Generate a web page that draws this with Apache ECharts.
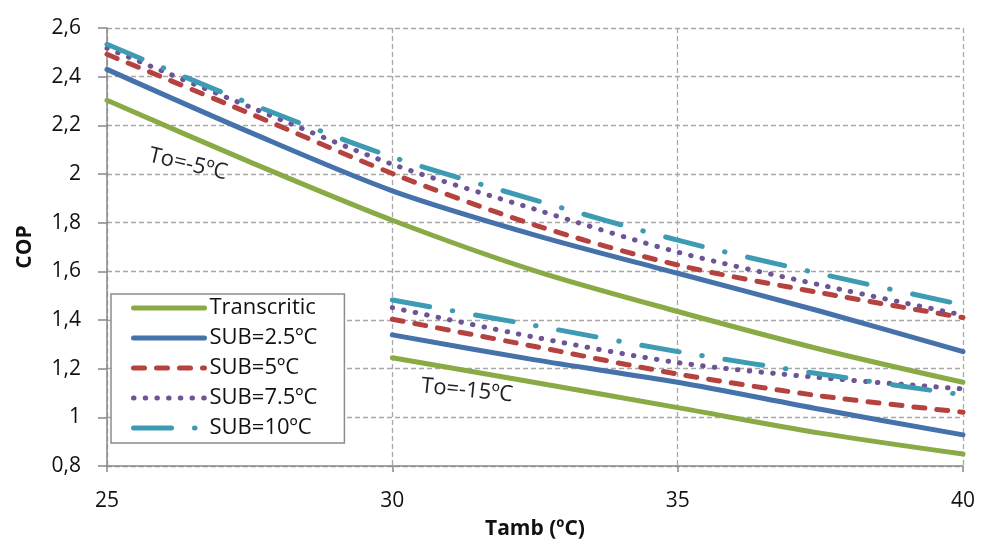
<!DOCTYPE html>
<html>
<head>
<meta charset="utf-8">
<script src="https://cdn.jsdelivr.net/npm/echarts@6/dist/echarts.min.js"></script>
<style>
  html, body { margin: 0; padding: 0; background: #fff; }
  #chart { width: 981px; height: 540px; }
</style>
</head>
<body>
<div id="chart"></div>
<script>
// Ambient temperature samples (ºC)
const tambHigh = [25, 27.5, 30, 32.5, 35, 37.5, 40];   // To = -5ºC
const tambLow = [30, 32.5, 35, 37.5, 40];               // To = -15ºC

const seriesNames = ['Transcritic', 'SUB=2.5ºC', 'SUB=5ºC', 'SUB=7.5ºC', 'SUB=10ºC'];

// COP at To = -5ºC
const copHighTrans = [2.303, 2.050, 1.810, 1.602, 1.435, 1.280, 1.144];
const copHighSub25 = [2.430, 2.172, 1.931, 1.749, 1.592, 1.436, 1.270];
const copHighSub5  = [2.492, 2.249, 2.002, 1.790, 1.626, 1.512, 1.410];
const copHighSub75 = [2.517, 2.276, 2.040, 1.855, 1.679, 1.544, 1.420];
const copHighSub10 = [2.533, 2.290, 2.070, 1.893, 1.728, 1.590, 1.462];

// COP at To = -15ºC
const copLowTrans = [1.245, 1.143, 1.040, 0.935, 0.849];
const copLowSub25 = [1.339, 1.236, 1.144, 1.033, 0.928];
const copLowSub5  = [1.403, 1.291, 1.178, 1.088, 1.021];
const copLowSub75 = [1.451, 1.329, 1.225, 1.163, 1.117];
const copLowSub10 = [1.482, 1.377, 1.270, 1.178, 1.092];

const yTicks = { min: 0.8, max: 2.6, step: 0.2 };
const xTicks = { min: 25, max: 40, step: 5 };

const styles = [
  { color: '#8AAA45', type: 'solid' },
  { color: '#4572AA', type: 'solid' },
  { color: '#B5423F', type: [11, 12] },
  { color: '#6E5395', type: [0.5, 11.2] },
  { color: '#3D9BB3', type: [38, 23, 0.5, 23] }
];

const highSets = [copHighTrans, copHighSub25, copHighSub5, copHighSub75, copHighSub10];
const lowSets = [copLowTrans, copLowSub25, copLowSub5, copLowSub75, copLowSub10];

function pairs(xs, ys) { return xs.map((x, i) => [x, ys[i]]); }

function makeSeries(name, data, st) {
  return {
    name: name,
    type: 'line',
    data: data,
    smooth: 0.3,
    symbol: 'none',
    showSymbol: false,
    lineStyle: { color: st.color, width: 5, type: st.type, cap: 'round', join: 'round' },
    itemStyle: { color: st.color },
    emphasis: { disabled: true },
    z: 3
  };
}

const series = [];
seriesNames.forEach((n, i) => series.push(makeSeries(n, pairs(tambHigh, highSets[i]), styles[i])));
seriesNames.forEach((n, i) => series.push(makeSeries(n, pairs(tambLow, lowSets[i]), styles[i])));

const font = '"Open Sans", "Noto Sans", "Liberation Sans", sans-serif';

function fmt(v) {
  return String(Math.round(v * 10) / 10).replace('.', ',');
}

const chart = echarts.init(document.getElementById('chart'), null, { renderer: 'canvas' });

chart.setOption({
  animation: false,
  backgroundColor: '#ffffff',
  grid: { left: 107, right: 18, top: 28, bottom: 74, outerBoundsMode: 'none' },
  legend: {
    orient: 'vertical',
    left: 111,
    top: 294,
    data: seriesNames,
    itemWidth: 71,
    itemHeight: 20,
    itemGap: 8,
    padding: [3, 27, 4, 20],
    borderColor: '#8C8C8C',
    borderWidth: 1.5,
    backgroundColor: '#ffffff',
    itemStyle: { opacity: 0, borderWidth: 0 },
    lineStyle: { width: 5, cap: 'round' },
    textStyle: { fontFamily: font, fontSize: 22, color: '#111' },
    selectedMode: false
  },
  xAxis: {
    type: 'value',
    min: xTicks.min,
    max: xTicks.max,
    interval: xTicks.step,
    name: 'Tamb (ºC)',
    nameLocation: 'middle',
    nameGap: 53,
    nameTextStyle: { fontFamily: font, fontSize: 21, fontWeight: 'bold', color: '#111' },
    axisLine: { lineStyle: { color: '#888', width: 1.5 } },
    axisTick: { show: true, length: 6, lineStyle: { color: '#888', width: 1.5 } },
    axisLabel: { fontFamily: font, fontSize: 21, color: '#111', margin: 25 },
    splitLine: { show: true, lineStyle: { color: '#A8A8A8', width: 1.3, type: [5, 3] } }
  },
  yAxis: {
    type: 'value',
    min: yTicks.min,
    max: yTicks.max,
    interval: yTicks.step,
    name: 'COP',
    nameLocation: 'middle',
    nameGap: 71,
    nameRotate: 90,
    nameTextStyle: { fontFamily: font, fontSize: 21, fontWeight: 'bold', color: '#111' },
    axisLine: { show: true, lineStyle: { color: '#888', width: 1.5 } },
    axisTick: { show: true, length: 9, lineStyle: { color: '#888', width: 1.5 } },
    axisLabel: { fontFamily: font, fontSize: 21, color: '#111', margin: 26, formatter: fmt },
    splitLine: { show: true, lineStyle: { color: '#A8A8A8', width: 1.3, type: [5, 3] } }
  },
  series: series
});

// Evaporation-temperature labels placed in data coordinates
const notes = [
  { text: 'To=-5ºC', at: [26.42, 2.04], rot: -0.23 },
  { text: 'To=-15ºC', at: [31.31, 1.11], rot: -0.10 }
];
chart.setOption({
  graphic: notes.map(n => {
    const p = chart.convertToPixel({ gridIndex: 0 }, n.at);
    return {
      type: 'text',
      x: p[0],
      y: p[1],
      rotation: n.rot,
      z: 10,
      style: {
        text: n.text,
        fontFamily: font,
        fontSize: 22,
        fill: '#222',
        align: 'center',
        verticalAlign: 'middle'
      }
    };
  })
});
</script>
</body>
</html>
